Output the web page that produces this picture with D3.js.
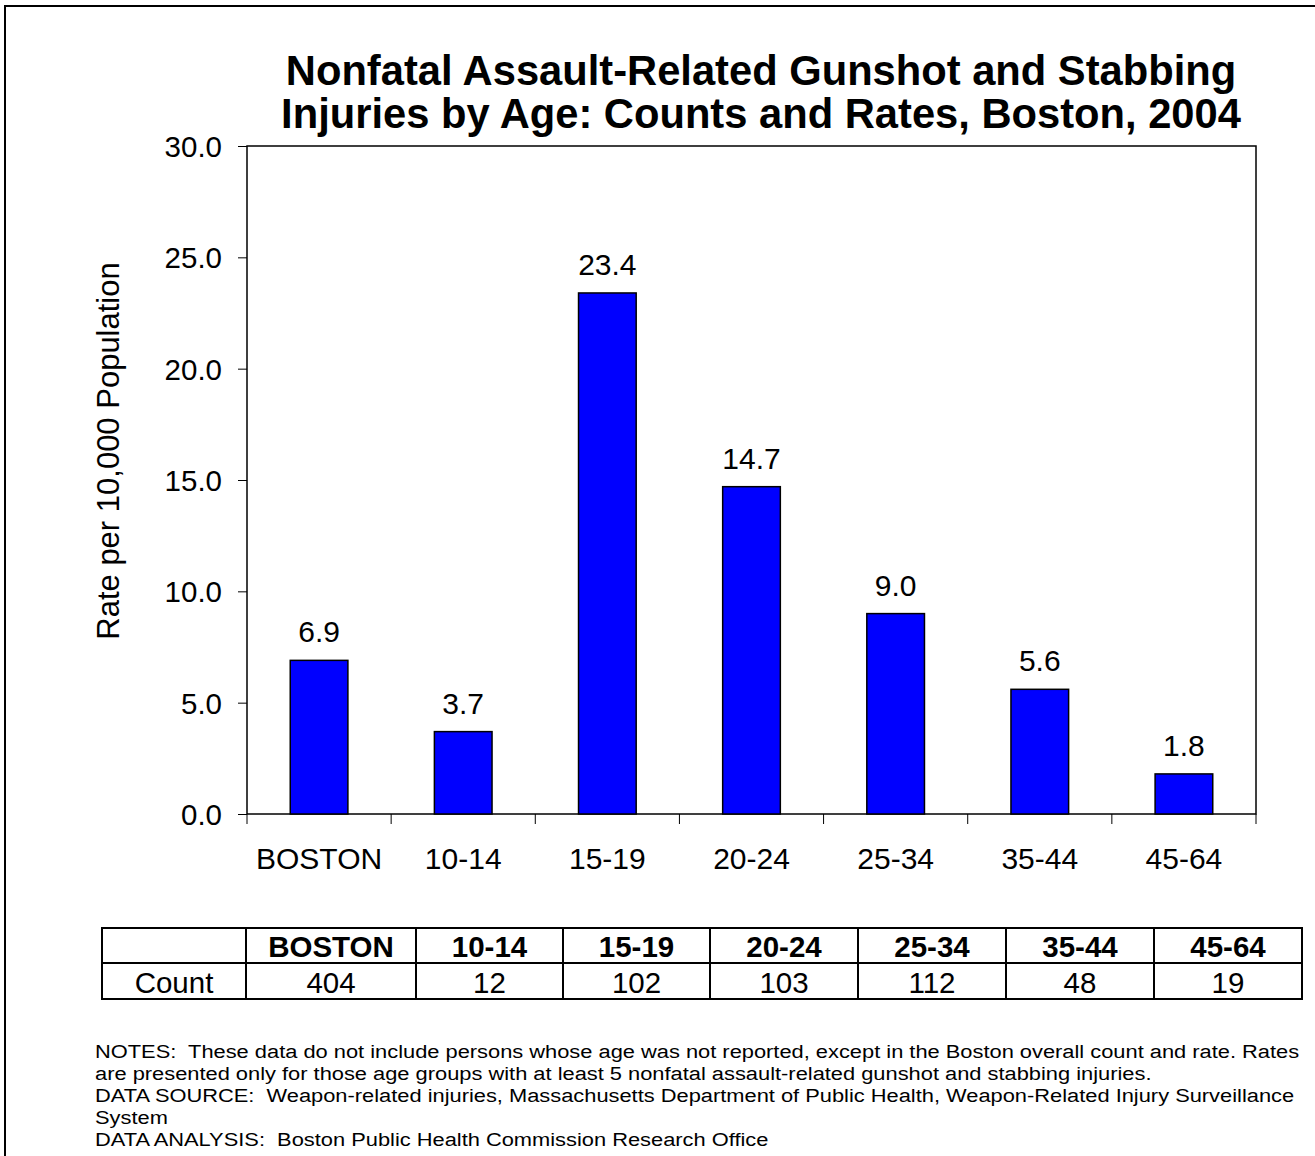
<!DOCTYPE html>
<html>
<head>
<meta charset="utf-8">
<script src="https://cdn.jsdelivr.net/npm/d3@7"></script>
<style>
  html, body { margin: 0; padding: 0; background: #fff; }
  svg { display: block; font-family: Arial, "Liberation Sans", sans-serif; }
</style>
</head>
<body>
<script>
// ---- data ----
const categories = ["BOSTON", "10-14", "15-19", "20-24", "25-34", "35-44", "45-64"];
const rates = [6.9, 3.7, 23.4, 14.7, 9.0, 5.6, 1.8];
const counts = [404, 12, 102, 103, 112, 48, 19];
const yTicks = [0, 5, 10, 15, 20, 25, 30];
const titleLines = ["Nonfatal Assault-Related Gunshot and Stabbing",
                    "Injuries by Age: Counts and Rates, Boston, 2004"];
const yLabel = "Rate per 10,000 Population";
const rowLabel = "Count";
const notes = [
  "NOTES:  These data do not include persons whose age was not reported, except in the Boston overall count and rate. Rates",
  "are presented only for those age groups with at least 5 nonfatal assault-related gunshot and stabbing injuries.",
  "DATA SOURCE:  Weapon-related injuries, Massachusetts Department of Public Health, Weapon-Related Injury Surveillance",
  "System",
  "DATA ANALYSIS:  Boston Public Health Commission Research Office"
];

// ---- layout ----
const W = 1315, H = 1156;
const plot = { left: 247, right: 1256, top: 146, bottom: 814 };
const FONT = 'Arial, "Liberation Sans", sans-serif';

const svg = d3.select("body").append("svg").attr("width", W).attr("height", H);

// outer border
svg.append("rect").attr("x", 5).attr("y", 6).attr("width", W + 20).attr("height", H + 20)
  .attr("fill", "none").attr("stroke", "#000").attr("stroke-width", 2);

// title
svg.append("g").selectAll("text").data(titleLines).join("text")
  .attr("x", 761).attr("y", (d, i) => 85 + i * 43)
  .attr("text-anchor", "middle").attr("font-weight", "bold").attr("font-size", 41.7)
  .attr("fill", "#000").text(d => d);

// scales
const x = d3.scaleBand().domain(categories).range([plot.left, plot.right])
  .paddingInner(0.6).paddingOuter(0.3);
const y = d3.scaleLinear().domain([0, 30]).range([plot.bottom, plot.top]);

// plot frame
svg.append("rect").attr("x", plot.left).attr("y", plot.top)
  .attr("width", plot.right - plot.left).attr("height", plot.bottom - plot.top)
  .attr("fill", "#fff").attr("stroke", "#000").attr("stroke-width", 1.5);

// y axis
const yAxis = d3.axisLeft(y).tickValues(yTicks).tickFormat(d3.format(".1f"))
  .tickSize(9).tickPadding(16);
const gy = svg.append("g").attr("transform", `translate(${plot.left},0)`).call(yAxis);
gy.select(".domain").remove();
gy.selectAll(".tick line").attr("stroke", "#000").attr("stroke-width", 1);
gy.selectAll(".tick text").attr("font-size", 29.5).attr("font-family", FONT)
  .attr("fill", "#000").attr("dy", "0.36em");

// x axis: ticks at category boundaries
const boundaries = d3.range(categories.length + 1).map(i => plot.left + i * (plot.right - plot.left) / categories.length);
svg.append("g").selectAll("line").data(boundaries).join("line")
  .attr("x1", d => d).attr("x2", d => d)
  .attr("y1", plot.bottom).attr("y2", plot.bottom + 10)
  .attr("stroke", "#000").attr("stroke-width", 1);
svg.append("g").selectAll("text").data(categories).join("text")
  .attr("x", d => x(d) + x.bandwidth() / 2).attr("y", 869)
  .attr("text-anchor", "middle").attr("font-size", 30).attr("fill", "#000")
  .text(d => d);

// y label
svg.append("text")
  .attr("transform", `translate(119,451) rotate(-90)`)
  .attr("text-anchor", "middle").attr("font-size", 31).attr("fill", "#000")
  .text(yLabel);

// bars
svg.append("g").selectAll("rect").data(categories).join("rect")
  .attr("x", d => x(d)).attr("width", x.bandwidth())
  .attr("y", (d, i) => y(rates[i])).attr("height", (d, i) => y(0) - y(rates[i]))
  .attr("fill", "#0000FF").attr("stroke", "#000").attr("stroke-width", 1.5);

// value labels
svg.append("g").selectAll("text").data(categories).join("text")
  .attr("x", d => x(d) + x.bandwidth() / 2)
  .attr("y", (d, i) => y(rates[i]) - 18)
  .attr("text-anchor", "middle").attr("font-size", 30).attr("fill", "#000")
  .text((d, i) => rates[i].toFixed(1));

// table
const colEdges = [102, 246, 416, 563, 710, 858, 1006, 1154, 1302];
const rowEdges = [928, 963, 999];
const tg = svg.append("g");
tg.selectAll("line.v").data(colEdges).join("line").attr("class", "v")
  .attr("x1", d => d).attr("x2", d => d).attr("y1", rowEdges[0]).attr("y2", rowEdges[2])
  .attr("stroke", "#000").attr("stroke-width", 2);
tg.selectAll("line.h").data(rowEdges).join("line").attr("class", "h")
  .attr("x1", colEdges[0] - 1).attr("x2", colEdges[colEdges.length - 1] + 1)
  .attr("y1", d => d).attr("y2", d => d)
  .attr("stroke", "#000").attr("stroke-width", 2);
tg.selectAll("text.hdr").data(categories).join("text").attr("class", "hdr")
  .attr("x", (d, i) => (colEdges[i + 1] + colEdges[i + 2]) / 2).attr("y", 957)
  .attr("text-anchor", "middle").attr("font-size", 29.5).attr("font-weight", "bold").attr("fill", "#000")
  .text(d => d);
tg.selectAll("text.cnt").data(counts).join("text").attr("class", "cnt")
  .attr("x", (d, i) => (colEdges[i + 1] + colEdges[i + 2]) / 2).attr("y", 993)
  .attr("text-anchor", "middle").attr("font-size", 29.5).attr("fill", "#000")
  .text(d => d);
tg.append("text").attr("x", (colEdges[0] + colEdges[1]) / 2).attr("y", 993)
  .attr("text-anchor", "middle").attr("font-size", 29.5).attr("fill", "#000").text(rowLabel);

// notes (slightly wide-set text, as in the reference)
svg.append("g").selectAll("text").data(notes).join("text")
  .attr("transform", (d, i) => `translate(95,${1058 + i * 22}) scale(1.15,1)`)
  .attr("x", 0).attr("y", 0)
  .attr("font-size", 19).attr("fill", "#000")
  .style("white-space", "pre")
  .text(d => d);
</script>
</body>
</html>
